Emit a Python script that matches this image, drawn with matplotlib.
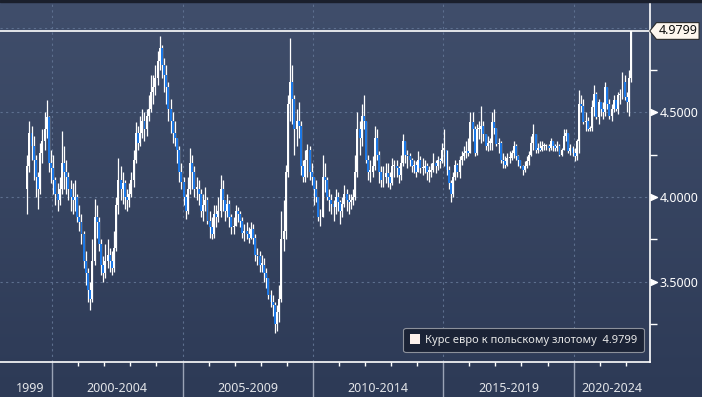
import numpy as np
import matplotlib.pyplot as plt
from matplotlib.patches import Rectangle
from matplotlib.path import Path
from matplotlib.colors import LinearSegmentedColormap
import matplotlib.transforms as mtransforms

plt.rcParams['font.family'] = ['Noto Sans', 'DejaVu Sans']

# monthly EUR/PLN candles, Jan 1999 .. Mar 2022 (open = previous close)
first_open = 4.05
close = [
    4.18, 4.38, 4.30, 4.22, 4.12, 4.05, 4.26, 4.33, 4.40, 4.47, 4.20, 4.17,  # 1999
    4.10, 4.02, 3.98, 4.05, 4.20, 4.15, 4.12, 4.05, 4.00, 3.98, 4.00, 3.88,  # 2000
    3.85, 3.78, 3.62, 3.55, 3.45, 3.40, 3.62, 3.88, 3.85, 3.72, 3.60, 3.55,  # 2001
    3.62, 3.66, 3.62, 3.58, 3.70, 3.95, 4.10, 4.05, 4.08, 4.00, 3.98, 4.02,  # 2002
    4.10, 4.22, 4.38, 4.32, 4.38, 4.45, 4.40, 4.48, 4.52, 4.62, 4.65, 4.70,  # 2003
    4.80, 4.88, 4.78, 4.72, 4.65, 4.52, 4.45, 4.38, 4.35, 4.28, 4.15, 4.09,  # 2004
    4.00, 3.92, 4.05, 4.20, 4.15, 4.05, 4.05, 4.02, 3.92, 3.95, 3.98, 3.86,  # 2005
    3.82, 3.78, 3.90, 3.88, 3.92, 4.05, 3.98, 3.92, 3.96, 3.88, 3.82, 3.83,  # 2006
    3.92, 3.90, 3.86, 3.79, 3.80, 3.78, 3.76, 3.81, 3.76, 3.66, 3.65, 3.60,  # 2007
    3.60, 3.55, 3.52, 3.42, 3.38, 3.36, 3.25, 3.32, 3.40, 3.75, 3.80, 4.15,  # 2008
    4.55, 4.68, 4.58, 4.40, 4.45, 4.42, 4.18, 4.12, 4.22, 4.28, 4.15, 4.12,  # 2009
    4.05, 4.00, 3.88, 3.88, 4.12, 4.10, 4.00, 3.98, 3.96, 3.94, 4.00, 3.97,  # 2010
    3.92, 3.96, 4.02, 3.98, 3.97, 3.98, 4.00, 4.15, 4.40, 4.35, 4.48, 4.45,  # 2011
    4.22, 4.15, 4.15, 4.18, 4.35, 4.25, 4.15, 4.10, 4.12, 4.14, 4.12, 4.08,  # 2012
    4.18, 4.18, 4.17, 4.13, 4.20, 4.33, 4.25, 4.24, 4.22, 4.18, 4.19, 4.15,  # 2013
    4.22, 4.17, 4.17, 4.18, 4.15, 4.15, 4.16, 4.20, 4.18, 4.22, 4.21, 4.28,  # 2014
    4.28, 4.16, 4.08, 4.02, 4.12, 4.19, 4.15, 4.22, 4.24, 4.26, 4.27, 4.26,  # 2015
    4.44, 4.40, 4.26, 4.40, 4.40, 4.42, 4.37, 4.30, 4.32, 4.32, 4.44, 4.41,  # 2016
    4.31, 4.32, 4.22, 4.21, 4.19, 4.23, 4.23, 4.26, 4.30, 4.24, 4.22, 4.18,  # 2017
    4.16, 4.18, 4.21, 4.25, 4.32, 4.37, 4.28, 4.29, 4.28, 4.30, 4.30, 4.30,  # 2018
    4.29, 4.33, 4.30, 4.29, 4.30, 4.25, 4.28, 4.36, 4.38, 4.27, 4.29, 4.26,  # 2019
    4.24, 4.33, 4.55, 4.54, 4.44, 4.45, 4.40, 4.41, 4.53, 4.61, 4.47, 4.56,  # 2020
    4.52, 4.50, 4.65, 4.55, 4.48, 4.52, 4.57, 4.52, 4.60, 4.61, 4.68, 4.59,  # 2021
    4.56, 4.70, 4.9799,                                                      # 2022
]
high = [
    4.25, 4.45, 4.42, 4.36, 4.25, 4.15, 4.32, 4.40, 4.50, 4.57, 4.48, 4.28,
    4.25, 4.12, 4.08, 4.12, 4.39, 4.30, 4.22, 4.15, 4.10, 4.08, 4.10, 4.02,
    3.95, 3.90, 3.80, 3.68, 3.58, 3.50, 3.75, 3.99, 3.95, 3.88, 3.75, 3.65,
    3.72, 3.75, 3.70, 3.68, 3.80, 4.00, 4.23, 4.18, 4.15, 4.10, 4.05, 4.08,
    4.15, 4.28, 4.44, 4.42, 4.48, 4.52, 4.50, 4.52, 4.60, 4.72, 4.72, 4.78,
    4.86, 4.95, 4.90, 4.82, 4.78, 4.68, 4.58, 4.50, 4.45, 4.35, 4.30, 4.20,
    4.12, 4.02, 4.12, 4.29, 4.25, 4.18, 4.12, 4.10, 4.05, 4.02, 4.06, 4.00,
    3.92, 3.88, 3.95, 3.95, 4.00, 4.13, 4.10, 3.98, 4.02, 3.98, 3.90, 3.88,
    3.95, 3.94, 3.92, 3.88, 3.84, 3.85, 3.82, 3.85, 3.84, 3.78, 3.70, 3.68,
    3.66, 3.64, 3.58, 3.52, 3.45, 3.42, 3.38, 3.36, 3.48, 3.92, 3.98, 4.19,
    4.60, 4.94, 4.78, 4.60, 4.52, 4.56, 4.45, 4.22, 4.28, 4.31, 4.30, 4.20,
    4.12, 4.10, 4.00, 3.93, 4.25, 4.20, 4.12, 4.05, 4.02, 3.98, 4.05, 4.03,
    3.98, 4.00, 4.07, 4.05, 4.02, 4.02, 4.05, 4.25, 4.50, 4.45, 4.55, 4.60,
    4.42, 4.25, 4.22, 4.24, 4.42, 4.40, 4.27, 4.18, 4.18, 4.20, 4.20, 4.15,
    4.23, 4.22, 4.22, 4.18, 4.25, 4.37, 4.33, 4.28, 4.26, 4.23, 4.22, 4.21,
    4.27, 4.24, 4.23, 4.22, 4.20, 4.18, 4.20, 4.26, 4.22, 4.24, 4.23, 4.32,
    4.40, 4.24, 4.18, 4.10, 4.15, 4.22, 4.20, 4.24, 4.27, 4.30, 4.33, 4.35,
    4.50, 4.50, 4.42, 4.43, 4.45, 4.54, 4.45, 4.37, 4.36, 4.35, 4.50, 4.52,
    4.40, 4.35, 4.33, 4.26, 4.24, 4.26, 4.27, 4.28, 4.33, 4.31, 4.25, 4.22,
    4.19, 4.21, 4.24, 4.27, 4.36, 4.43, 4.37, 4.32, 4.33, 4.33, 4.32, 4.31,
    4.31, 4.35, 4.33, 4.31, 4.33, 4.31, 4.29, 4.40, 4.40, 4.38, 4.31, 4.30,
    4.29, 4.34, 4.63, 4.60, 4.58, 4.50, 4.47, 4.42, 4.57, 4.66, 4.62, 4.58,
    4.56, 4.56, 4.68, 4.63, 4.58, 4.55, 4.60, 4.57, 4.62, 4.64, 4.74, 4.72,
    4.62, 4.75, 4.9799,
]
low = [
    3.90, 4.15, 4.22, 4.10, 4.00, 3.93, 4.02, 4.20, 4.28, 4.35, 4.15, 4.08,
    4.02, 3.95, 3.92, 3.95, 4.02, 4.05, 4.02, 3.98, 3.92, 3.90, 3.92, 3.85,
    3.80, 3.72, 3.58, 3.48, 3.38, 3.33, 3.38, 3.60, 3.76, 3.68, 3.54, 3.50,
    3.52, 3.58, 3.56, 3.54, 3.56, 3.68, 3.90, 3.98, 3.96, 3.93, 3.92, 3.94,
    4.00, 4.06, 4.20, 4.28, 4.30, 4.35, 4.33, 4.36, 4.45, 4.50, 4.55, 4.60,
    4.66, 4.75, 4.70, 4.62, 4.55, 4.45, 4.38, 4.32, 4.30, 4.20, 4.09, 4.05,
    3.95, 3.87, 3.90, 4.02, 4.05, 4.00, 3.98, 3.95, 3.88, 3.86, 3.92, 3.84,
    3.76, 3.75, 3.76, 3.82, 3.85, 3.88, 3.92, 3.86, 3.88, 3.82, 3.78, 3.78,
    3.83, 3.85, 3.82, 3.76, 3.74, 3.75, 3.73, 3.75, 3.72, 3.62, 3.60, 3.56,
    3.56, 3.50, 3.46, 3.40, 3.35, 3.30, 3.20, 3.21, 3.26, 3.38, 3.68, 3.75,
    4.12, 4.45, 4.43, 4.25, 4.30, 4.35, 4.13, 4.09, 4.09, 4.12, 4.10, 4.07,
    3.95, 3.97, 3.86, 3.83, 3.88, 4.03, 3.98, 3.92, 3.90, 3.86, 3.90, 3.92,
    3.84, 3.88, 3.94, 3.92, 3.90, 3.93, 3.95, 3.98, 4.12, 4.25, 4.30, 4.40,
    4.20, 4.10, 4.09, 4.12, 4.16, 4.22, 4.08, 4.06, 4.06, 4.08, 4.06, 4.05,
    4.07, 4.12, 4.12, 4.08, 4.10, 4.18, 4.20, 4.17, 4.18, 4.15, 4.14, 4.12,
    4.15, 4.14, 4.13, 4.14, 4.10, 4.09, 4.12, 4.15, 4.14, 4.16, 4.17, 4.20,
    4.18, 4.13, 4.05, 3.97, 4.00, 4.10, 4.12, 4.11, 4.19, 4.22, 4.23, 4.24,
    4.27, 4.33, 4.24, 4.25, 4.34, 4.32, 4.33, 4.28, 4.27, 4.28, 4.28, 4.37,
    4.30, 4.26, 4.20, 4.17, 4.17, 4.18, 4.20, 4.22, 4.23, 4.22, 4.18, 4.17,
    4.13, 4.15, 4.17, 4.19, 4.24, 4.28, 4.26, 4.26, 4.27, 4.27, 4.28, 4.28,
    4.27, 4.28, 4.27, 4.27, 4.27, 4.24, 4.24, 4.28, 4.33, 4.26, 4.25, 4.24,
    4.21, 4.22, 4.26, 4.50, 4.43, 4.39, 4.39, 4.39, 4.39, 4.48, 4.46, 4.43,
    4.48, 4.46, 4.48, 4.52, 4.46, 4.45, 4.50, 4.51, 4.49, 4.55, 4.58, 4.57,
    4.50, 4.48, 4.68,
]

period_starts = [1999, 2000, 2005, 2010, 2015, 2020]
period_labels = ['1999', '2000-2004', '2005-2009', '2010-2014', '2015-2019', '2020-2024']
y_major = [3.5, 4.0, 4.5]
y_minor = [3.25, 3.75, 4.25, 4.75]
y_grid = [3.5, 4.0, 4.5, 5.0]
last_value = 4.9799
series_name = 'Курс евро к польскому злотому'

close = np.array(close)
opens = np.concatenate([[first_open], close[:-1]])
high = np.maximum(np.array(high), np.maximum(opens, close))
low = np.minimum(np.array(low), np.minimum(opens, close))
t = 1999 + (np.arange(len(close)) + 0.5) / 12

W, H = 702, 397
fig = plt.figure(figsize=(W / 100, H / 100), dpi=100)

# background gradient
bg = fig.add_axes([0, 0, 1, 1], zorder=-10)
cmap = LinearSegmentedColormap.from_list('bg', ['#2d3a56', '#404e6b'])
bg.imshow(np.linspace(0, 1, 256).reshape(-1, 1), aspect='auto', cmap=cmap,
          origin='lower', extent=[0, 1, 0, 1])
bg.axis('off')
fig.patches.append(Rectangle((0, 1 - 2 / H), 1, 2 / H, transform=fig.transFigure,
                             color='#1a1f2c', zorder=5))

ax = fig.add_axes([0, 35 / H, 650 / W, 360 / H])
ax.set_facecolor('none')
ax.set_xlim(1998.0, 2022.93)
ax.set_ylim(3.026, 5.151)

grid_kw = dict(color='#5d6f8e', lw=0.8, ls=(0, (2, 3)), zorder=1)
for g in y_grid:
    ax.axhline(g, **grid_kw)
for p in period_starts[1:]:
    ax.axvline(p, **grid_kw)

ax.axhline(last_value, color='white', lw=1.2, zorder=2)

up = close >= opens
blue = '#1c78e6'
colors = np.where(up, 'white', blue)
ax.vlines(t, low, high, color='white', lw=0.9, zorder=3)
ax.bar(t, np.maximum(np.abs(close - opens), 0.008), bottom=np.minimum(opens, close),
       width=0.9 / 12, color=colors, linewidth=0, zorder=4)

# spines
for s in ['top', 'left']:
    ax.spines[s].set_visible(False)
ax.spines['bottom'].set_color('white')
ax.spines['right'].set_color('white')
ax.spines['bottom'].set_linewidth(1.2)
ax.spines['right'].set_linewidth(1.2)

# x axis: year ticks and period separators
ax.set_xticks(period_starts[1:])
ax.set_xticklabels([])
ax.tick_params(axis='x', which='major', length=25, width=1, color='#9aa3b6')
ax.set_xticks([y for y in range(2000, 2023) if y not in period_starts], minor=True)
ax.tick_params(axis='x', which='minor', length=3, width=1, color='white')
xlo, xhi = ax.get_xlim()
trans_x = mtransforms.blended_transform_factory(ax.transData, ax.transAxes)
bounds = period_starts + [2025]
for i, lab in enumerate(period_labels):
    a = xlo if i == 0 else bounds[i]
    b = min(bounds[i + 1], xhi)
    ax.text((a + b) / 2 + (0.15 if i == 0 else 0), -26 / 360, lab, transform=trans_x,
            ha='center', va='center', fontsize=9, color='#e2e4e8')

# y axis on the right
ax.yaxis.tick_right()
ax.set_yticks(y_major)
ax.set_yticklabels([f'{v:.4f}' for v in y_major])
ax.tick_params(axis='y', which='major', length=0, pad=7, labelsize=9, labelcolor='white')
ax.set_yticks(y_minor, minor=True)
ax.tick_params(axis='y', which='minor', length=5, width=1, color='white')
trans_y = ax.get_yaxis_transform()
ax.plot([1] * len(y_major), y_major, transform=trans_y, ls='none', clip_on=False,
        marker=[(0, -1), (2.2, 0), (0, 1)], markersize=10, color='white', zorder=6)


def tag_box(x0, y0, width, height, mutation_size):
    pad = mutation_size * 0.15
    x0 -= pad
    y0 -= pad
    width += 2 * pad
    height += 2 * pad
    x1, y1 = x0 + width, y0 + height
    ym = (y0 + y1) / 2
    tip = height * 0.4
    return Path([(x0 - tip, ym), (x0, y0), (x1, y0), (x1, y1), (x0, y1), (x0 - tip, ym)],
                closed=True)


ax.annotate(f'{last_value:.4f}', xy=(1, last_value), xycoords=trans_y,
            xytext=(6, 0), textcoords='offset points', ha='left', va='center',
            fontsize=9, color='#111111', annotation_clip=False, zorder=7,
            bbox=dict(boxstyle=tag_box, fc='#fdf6ee', ec='#2a2a2a', lw=0.8))

# legend
handle = Rectangle((0, 0), 1, 1, fc='#fdf1ec', ec='none')
leg = ax.legend([handle], [f'{series_name}  {last_value:.4f}'], loc='lower right',
                bbox_to_anchor=(0.99, 0.028), borderaxespad=0, fontsize=8,
                handlelength=0.9, handleheight=0.9, handletextpad=0.5,
                borderpad=0.55, fancybox=True, framealpha=1, labelcolor='#e8e8e8')
frame = leg.get_frame()
frame.set_facecolor('#1b2336')
frame.set_edgecolor('#8c919b')
frame.set_linewidth(0.8)

fig.savefig('out.png', dpi=100)
